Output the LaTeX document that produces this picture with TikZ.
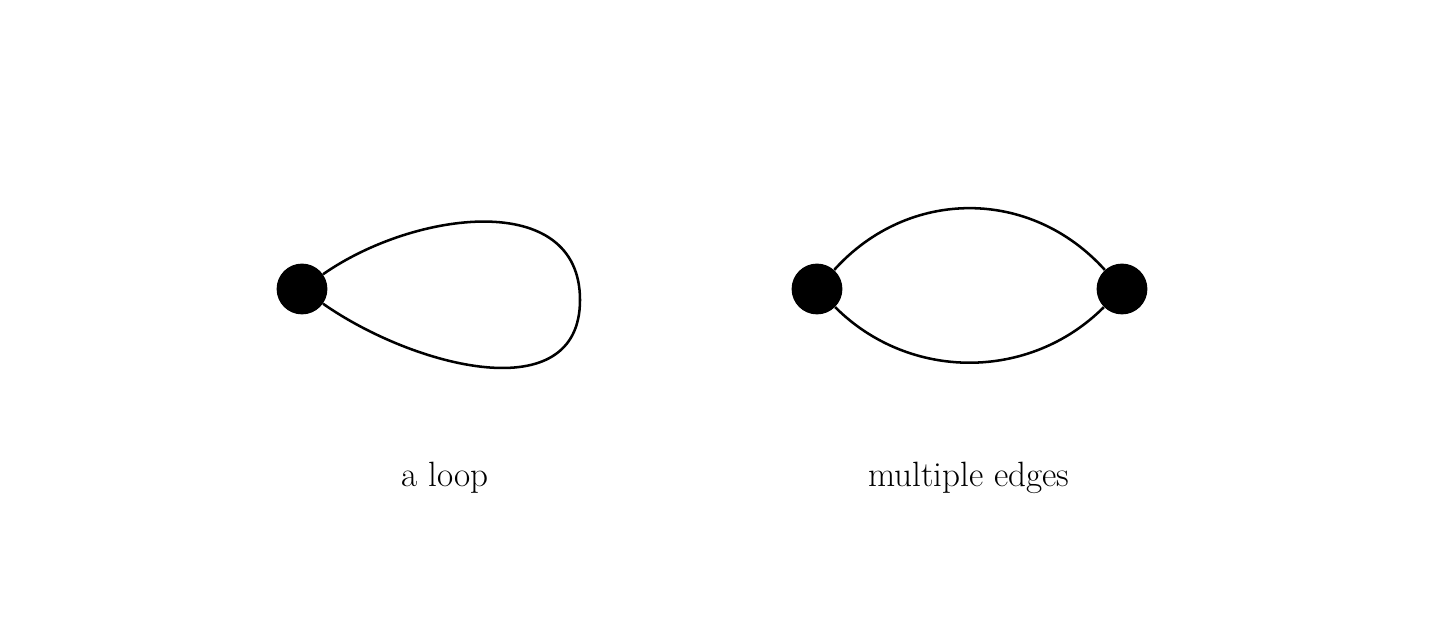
\documentclass[tikz,border=0pt]{standalone}
\begin{document}
\begin{tikzpicture}[
  vtx/.style={circle,fill=black,inner sep=0pt,minimum size=1.27cm},
  edge/.style={line width=1.8pt},
  lbl/.style={font=\fontsize{25}{30}\selectfont}]
\useasboundingbox (0,0) rectangle (36,15.6);
\node[vtx] (A) at (7.55,8.375) {};
\node[vtx] (B) at (20.425,8.375) {};
\node[vtx] (C) at (28.05,8.375) {};
\draw[edge] (A) to[out=35,in=90,looseness=1.1] (14.5,8.1) coordinate (R) to[out=-90,in=-35,looseness=1.1] (A);
\draw[edge] (B) to[out=48,in=132,looseness=1.05] (C);
\draw[edge] (B) to[out=-45,in=-135,looseness=1.0] (C);
\node[lbl] (l1) at (11.125,3.65) {a loop};
\node[lbl] (l2) at (24.225,3.65) {multiple edges};
\end{tikzpicture}
\end{document}
